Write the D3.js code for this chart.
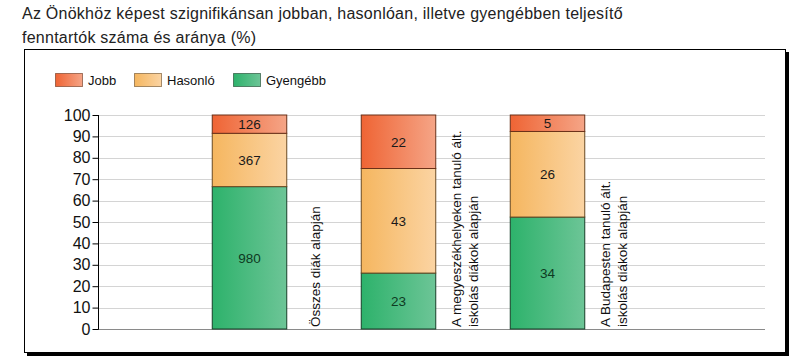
<!DOCTYPE html>
<html><head><meta charset="utf-8">
<script src="https://cdn.jsdelivr.net/npm/d3@7"></script>
<style>
body{margin:0;background:#fff;}
svg{display:block;font-family:"Liberation Sans",Arial,sans-serif;}
</style></head>
<body>
<svg id="c" width="811" height="359"></svg>
<script>
const titleLines = ["Az Önökhöz képest szignifikánsan jobban, hasonlóan, illetve gyengébben teljesítő", "fenntartók száma és aránya (%)"];
const categories = ["Összes diák alapján", "A megyeszékhelyeken tanuló ált. iskolás diákok alapján", "A Budapesten tanuló ált. iskolás diákok alapján"];
const categoryLines = [["Összes diák alapján"], ["A megyeszékhelyeken tanuló ált.", "iskolás diákok alapján"], ["A Budapesten tanuló ált.", "iskolás diákok alapján"]];
const seriesNames = ["Gyengébb", "Hasonló", "Jobb"];
const gyengebb = [980, 23, 34];
const hasonlo = [367, 43, 26];
const jobb = [126, 22, 5];
const yTicks = [0, 10, 20, 30, 40, 50, 60, 70, 80, 90, 100];
const legendOrder = ["Jobb", "Hasonló", "Gyengébb"];

const colors = {
  "Jobb": ["#ef6434", "#f5a587", "#6a3018"],
  "Hasonló": ["#f5b65f", "#fbd4a3", "#6a4a22"],
  "Gyengébb": ["#2db26b", "#6dc597", "#173f28"]
};

const svg = d3.select("#c");
const defs = svg.append("defs");
Object.entries(colors).forEach(([k, c], i) => {
  const g = defs.append("linearGradient").attr("id", "g" + i).attr("x1", 0).attr("x2", 1).attr("y1", 0).attr("y2", 0);
  g.append("stop").attr("offset", 0).attr("stop-color", c[0]);
  g.append("stop").attr("offset", 1).attr("stop-color", c[1]);
  colors[k].push("url(#g" + i + ")");
});

// title
svg.selectAll("text.title").data(titleLines).join("text")
  .attr("class", "title").attr("x", 22).attr("y", (d, i) => 19 + i * 23.5)
  .attr("font-size", 16).attr("letter-spacing", 0.25).attr("fill", "#222").text(d => d);

// frame with shadow
svg.append("rect").attr("x", 27).attr("y", 52).attr("width", 762).attr("height", 304).attr("fill", "#000");
svg.append("rect").attr("x", 24.5).attr("y", 49.5).attr("width", 761).attr("height", 303).attr("fill", "#fff").attr("stroke", "#000").attr("stroke-width", 1);

// legend
const legX = [55, 134, 233];
const leg = svg.append("g");
legendOrder.forEach((name, i) => {
  leg.append("rect").attr("x", legX[i] + 0.5).attr("y", 73.5).attr("width", 27).attr("height", 13)
    .attr("fill", colors[name][3]).attr("stroke", colors[name][2]).attr("stroke-opacity", 0.6);
  leg.append("text").attr("x", legX[i] + 33).attr("y", 85).attr("font-size", 13).attr("fill", "#111").text(name);
});

// scales
const y = d3.scaleLinear().domain([0, 100]).range([329, 115]);
const x = d3.scaleBand().domain(categories).range([174.5, 621.5]).paddingInner(0.5).paddingOuter(0.25);
const plotRight = 765, plotLeft = 98;

// gridlines
svg.append("g").selectAll("line").data(yTicks.filter(t => t > 0)).join("line")
  .attr("x1", plotLeft).attr("x2", plotRight).attr("y1", d => Math.round(y(d)) + 0.5).attr("y2", d => Math.round(y(d)) + 0.5)
  .attr("stroke", "#d4d4d4");
svg.append("line").attr("x1", plotLeft).attr("x2", plotRight).attr("y1", 329.5).attr("y2", 329.5).attr("stroke", "#8a8a8a");

// y axis
const yAxis = svg.append("g").attr("transform", "translate(98.5,0)")
  .call(d3.axisLeft(y).tickValues(yTicks).tickSize(6).tickPadding(2).tickFormat(d3.format("d")));
yAxis.select(".domain").attr("stroke", "#000").attr("d", "M0," + y(100) + "V" + (y(0) + 0.5));
yAxis.selectAll(".tick line").attr("stroke", "#000");
yAxis.selectAll(".tick text").attr("font-size", 16).attr("fill", "#111").attr("font-family", "Liberation Sans, Arial, sans-serif");

// data & stack
const rows = categories.map((c, i) => ({cat: c, "Gyengébb": gyengebb[i], "Hasonló": hasonlo[i], "Jobb": jobb[i]}));
const stack = d3.stack().keys(seriesNames).offset(d3.stackOffsetExpand)(rows);

const gBars = svg.append("g");
stack.forEach(layer => {
  const name = layer.key;
  const g = gBars.append("g");
  g.selectAll("rect").data(layer).join("rect")
    .attr("x", d => x(d.data.cat) + 0.5)
    .attr("y", d => y(d[1] * 100))
    .attr("width", x.bandwidth())
    .attr("height", d => y(d[0] * 100) - y(d[1] * 100))
    .attr("fill", colors[name][3]).attr("stroke", colors[name][2]).attr("stroke-width", 1);
  g.selectAll("text").data(layer).join("text")
    .attr("x", d => x(d.data.cat) + x.bandwidth() / 2 + 0.5)
    .attr("y", d => (y(d[0] * 100) + y(d[1] * 100)) / 2)
    .attr("dy", "0.36em").attr("text-anchor", "middle").attr("font-size", 13.5)
    .attr("fill", name === "Gyengébb" ? "#0e3a22" : "#1a1a1a")
    .text(d => d.data[name]);
});

// rotated category labels
categories.forEach((c, i) => {
  const lines = categoryLines[i];
  const cx = x(c) + x.bandwidth() + 29;
  const lh = 17;
  lines.forEach((l, j) => {
    const lx = cx + (j - (lines.length - 1) / 2) * lh;
    svg.append("text").attr("transform", `translate(${lx},327) rotate(-90)`)
      .attr("dy", "0.36em").attr("font-size", 13.5).attr("fill", "#111").text(l);
  });
});
</script>
</body></html>
